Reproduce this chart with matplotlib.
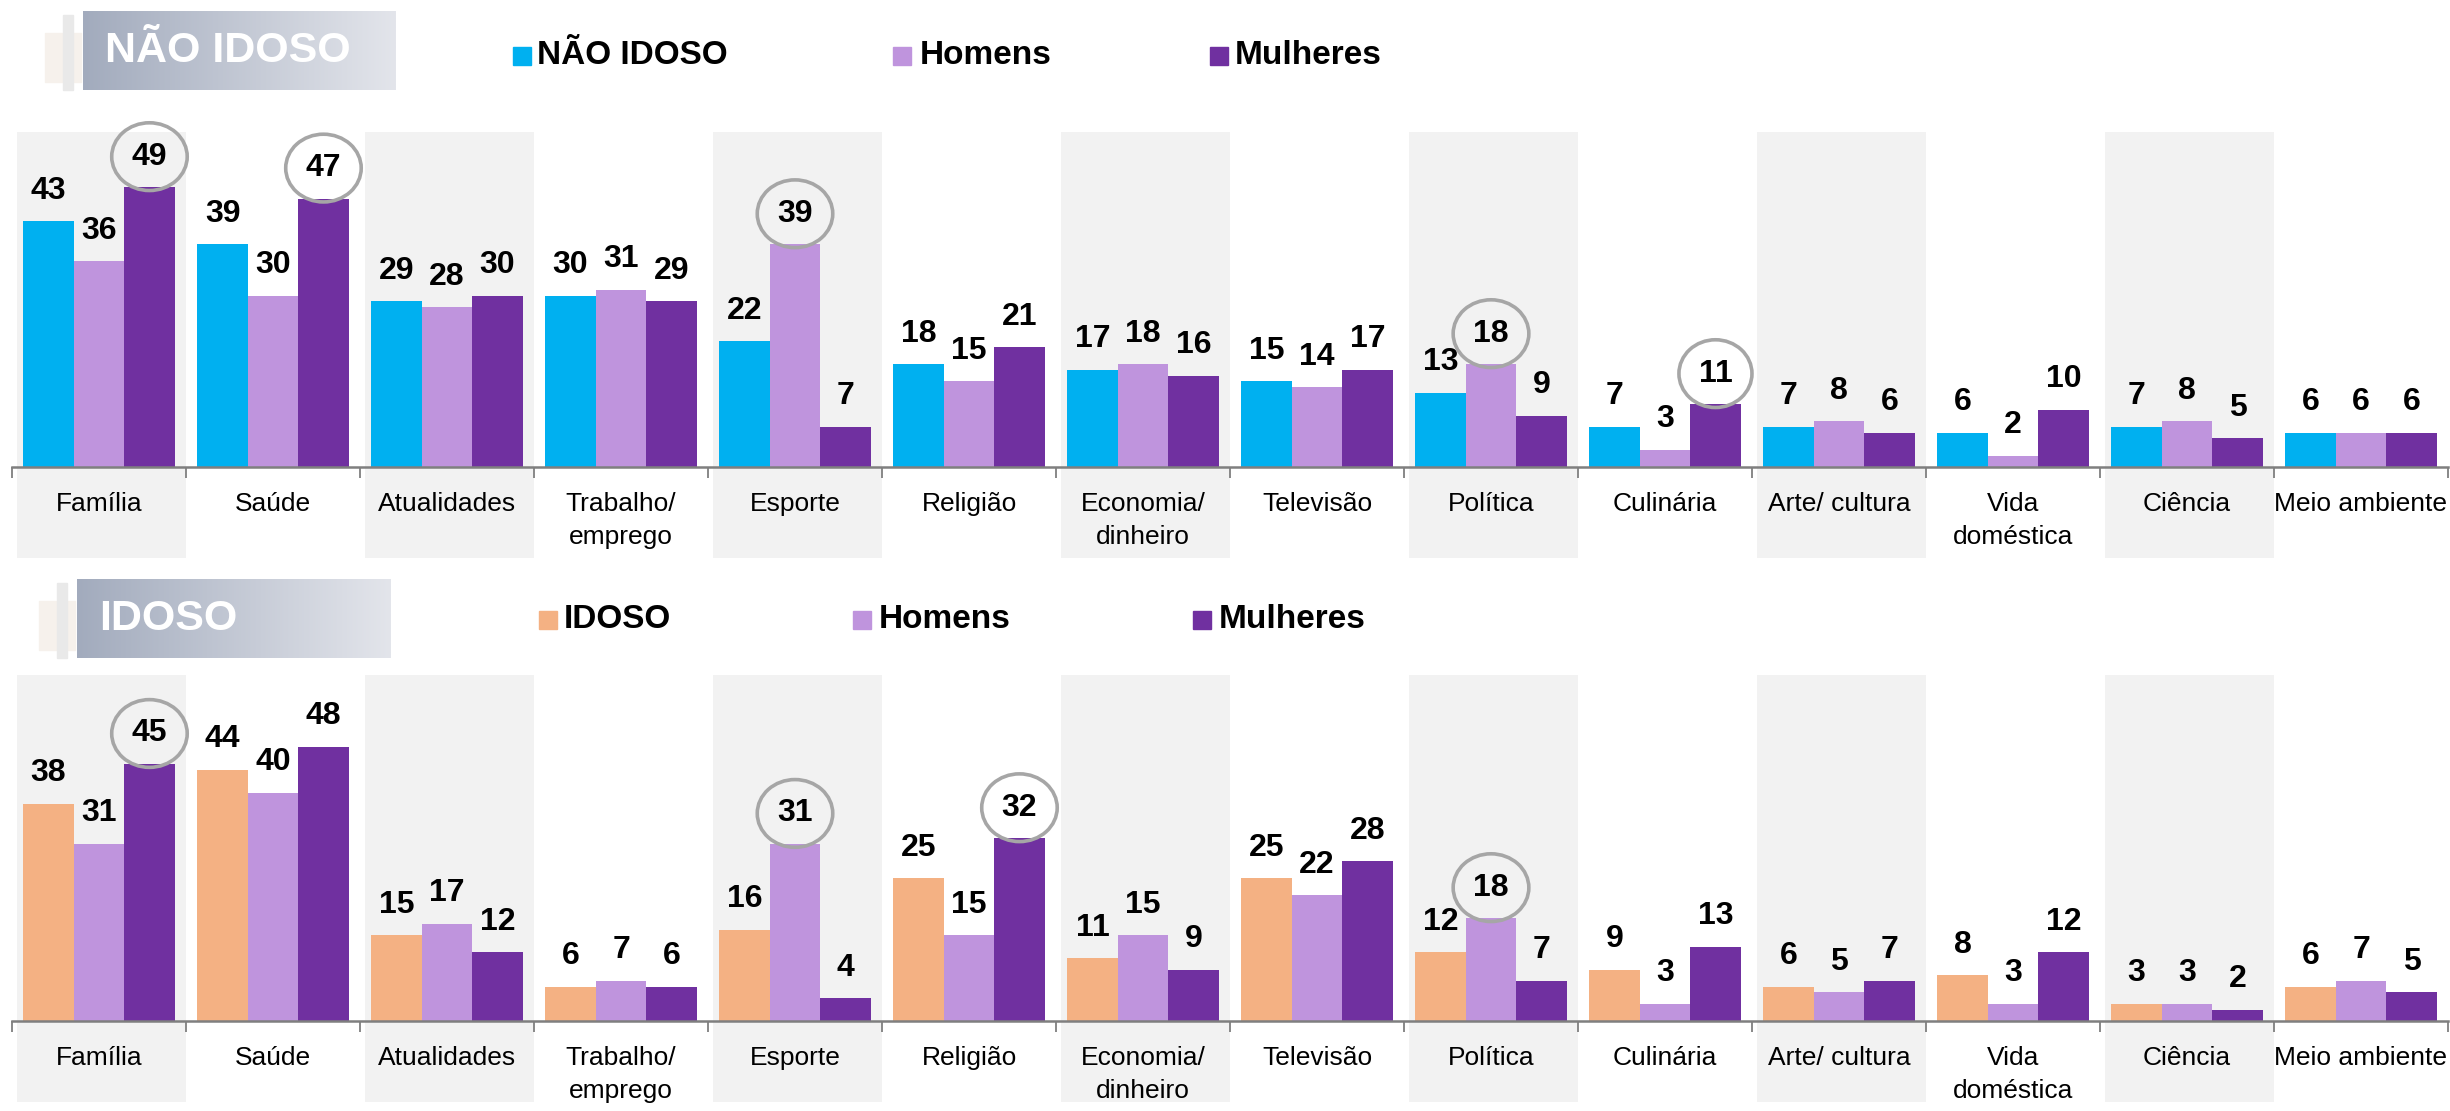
import numpy as np
import matplotlib
matplotlib.use('Agg')
import matplotlib.pyplot as plt
from matplotlib.patches import Rectangle

plt.rcParams['font.family'] = ['Liberation Sans', 'DejaVu Sans']

# data
categorias = ['Família', 'Saúde', 'Atualidades', 'Trabalho/\nemprego', 'Esporte', 'Religião',
              'Economia/\ndinheiro', 'Televisão', 'Política', 'Culinária', 'Arte/ cultura',
              'Vida\ndoméstica', 'Ciência', 'Meio ambiente']

nao_idoso = [43, 39, 29, 30, 22, 18, 17, 15, 13, 7, 7, 6, 7, 6]
nao_idoso_homens = [36, 30, 28, 31, 39, 15, 18, 14, 18, 3, 8, 2, 8, 6]
nao_idoso_mulheres = [49, 47, 30, 29, 7, 21, 16, 17, 9, 11, 6, 10, 5, 6]

idoso = [38, 44, 15, 6, 16, 25, 11, 25, 12, 9, 6, 8, 3, 6]
idoso_homens = [31, 40, 17, 7, 31, 15, 15, 22, 18, 3, 5, 3, 3, 7]
idoso_mulheres = [45, 48, 12, 6, 4, 32, 9, 28, 7, 13, 7, 12, 2, 5]

# highlighted values (category index, series index)
destaque_nao_idoso = [(0, 2), (1, 2), (4, 1), (8, 1), (9, 2)]
destaque_idoso = [(0, 2), (4, 1), (5, 2), (8, 1)]

C_CYAN = '#00b0f0'
C_ORANGE = '#f4b183'
C_HOM = '#bf94dd'
C_MUL = '#7030a0'

W, H = 2450, 1111
fig = plt.figure(figsize=(W / 100, H / 100), dpi=100)


def fx(px):
    return px / W


def fy(py):
    return 1 - py / H


PX_UNIT = 5.71  # pixels per percentage point


def painel(top_px, base_px, bot_px, series, cores, destaques):
    ax = fig.add_axes([fx(12), fy(bot_px), fx(2448) - fx(12), (bot_px - top_px) / H])
    ax.set_xlim(-0.5, len(categorias) - 0.5)
    ax.set_ylim(-(bot_px - base_px) / PX_UNIT, (base_px - top_px) / PX_UNIT)
    ax.set_facecolor('none')
    x = np.arange(len(categorias))
    for i in x[::2]:
        ax.axvspan(i - 0.47, i + 0.5, color='#f2f2f2', zorder=0, lw=0)
    w = 0.29
    for j, (vals, cor) in enumerate(zip(series, cores)):
        xs = x + (j - 1) * w
        ax.bar(xs, vals, width=w, color=cor, zorder=2)
        for i, v in enumerate(vals):
            kw = {}
            if (i, j) in destaques:
                kw['bbox'] = dict(boxstyle='ellipse,pad=0.28', fc='none', ec='#a6a6a6', lw=2.6)
            ax.annotate(str(v), (xs[i], v), xytext=(0, 22), textcoords='offset points',
                        ha='center', va='center', fontsize=23, fontweight='bold', zorder=3, **kw)
    for s in ['left', 'right', 'top']:
        ax.spines[s].set_visible(False)
    ax.spines['bottom'].set_position(('data', 0))
    ax.spines['bottom'].set_color('#7f7f7f')
    ax.spines['bottom'].set_linewidth(1.8)
    ax.spines['bottom'].set_zorder(4)
    ax.set_yticks([])
    ax.set_xticks(x)
    ax.set_xticklabels(categorias, fontsize=19, linespacing=1.45)
    ax.tick_params(axis='x', which='major', length=0, pad=18)
    ax.set_xticks(np.arange(-0.5, len(categorias)), minor=True)
    ax.tick_params(axis='x', which='minor', length=8, width=1.3, color='#7f7f7f', direction='out')
    return ax


painel(132, 467, 558, [nao_idoso, nao_idoso_homens, nao_idoso_mulheres],
       [C_CYAN, C_HOM, C_MUL], destaque_nao_idoso)
painel(675, 1021, 1102, [idoso, idoso_homens, idoso_mulheres],
       [C_ORANGE, C_HOM, C_MUL], destaque_idoso)


def titulo(texto, x0, y0, x1, y1):
    # faint decoration left of the box
    fig.patches.append(Rectangle((fx(x0 - 38), fy(y1 - 8)), fx(36), (y1 - y0 - 30) / H,
                                 transform=fig.transFigure, color='#f6f1ec', zorder=0))
    fig.patches.append(Rectangle((fx(x0 - 20), fy(y1)), fx(10), (y1 - y0 - 4) / H,
                                 transform=fig.transFigure, color='#e9e9e9', zorder=0))
    axb = fig.add_axes([fx(x0), fy(y1), fx(x1) - fx(x0), (y1 - y0) / H])
    grad = np.linspace(0, 1, 256).reshape(1, -1)
    cmap = matplotlib.colors.LinearSegmentedColormap.from_list('g', ['#a2abbd', '#e3e5eb'])
    axb.imshow(grad, aspect='auto', cmap=cmap, extent=[0, 1, 0, 1])
    axb.axis('off')
    axb.text(0.07, 0.5, texto, color='white', fontsize=31, fontweight='bold',
             ha='left', va='center', transform=axb.transAxes)


def legenda(itens, y):
    for (xq, xt, rotulo, cor) in itens:
        fig.patches.append(Rectangle((fx(xq), fy(y + 9)), fx(18), 18 / H,
                                     transform=fig.transFigure, color=cor))
        fig.text(fx(xt), fy(y), rotulo, fontsize=24, fontweight='bold', ha='left', va='center')


titulo('NÃO IDOSO', 83, 11, 396, 90)
legenda([(513, 537, 'NÃO IDOSO', C_CYAN), (893, 920, 'Homens', C_HOM),
         (1210, 1235, 'Mulheres', C_MUL)], 56)

titulo('IDOSO', 77, 579, 391, 658)
legenda([(539, 564, 'IDOSO', C_ORANGE), (853, 879, 'Homens', C_HOM),
         (1193, 1219, 'Mulheres', C_MUL)], 620)

fig.savefig('out.png', dpi=100)
